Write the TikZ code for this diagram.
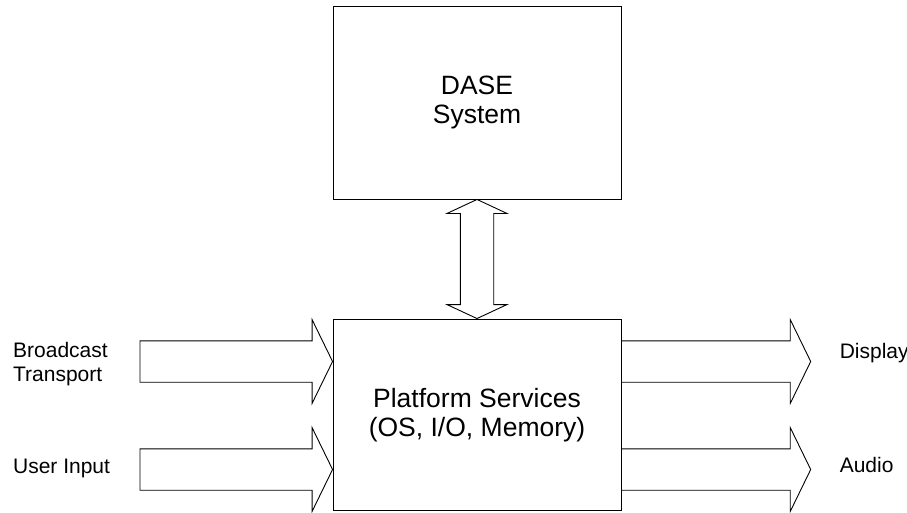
\documentclass[tikz,border=0pt]{standalone}
\usepackage{fontspec}
\setmainfont{Liberation Sans}
\usetikzlibrary{calc}
\tikzset{
  fat/.style={to path={let \p1=(\tikztostart), \p2=(\tikztotarget) in
    (\x1,\y1+20.7pt) -- (\x2-20.5pt,\y1+20.7pt) -- (\x2-20.5pt,\y1+42pt) -- (\x2,\y1)
    -- (\x2-20.5pt,\y1-42pt) -- (\x2-20.5pt,\y1-20.7pt) -- (\x1,\y1-20.7pt) -- cycle}},
  fatboth/.style={to path={let \p1=(\tikztostart), \p2=(\tikztotarget) in
    (\x1,\y1) -- (\x1+30pt,\y1-14pt) -- (\x1+16.7pt,\y1-14pt) -- (\x1+16.7pt,\y2+14pt)
    -- (\x1+30pt,\y2+14pt) -- (\x2,\y2) -- (\x1-30pt,\y2+14pt) -- (\x1-16.7pt,\y2+14pt)
    -- (\x1-16.7pt,\y1-14pt) -- (\x1-30pt,\y1-14pt) -- cycle}}
}
\begin{document}
\begin{tikzpicture}[x=1pt,y=-1pt,line width=0.9pt]
      \useasboundingbox (0,0) rectangle (907,512);
      \begin{scope}[every node/.style={draw,rectangle,align=center,minimum width=288pt,
          font=\fontsize{26.5}{29}\selectfont}]
      \node[minimum height=193pt] (dase) at (477,102.5) {DASE\\System};
      \node[minimum height=191.7pt] (plat) at (477,414.85) {Platform Services\\(OS, I/O, Memory)};
      \end{scope}
      \begin{scope}[every node/.style={inner sep=0pt,font=\fontsize{21}{23.4}\selectfont}]
      \node[anchor=west,align=left] (btl) at (12.7,364) {Broadcast\\Transport};
      \node[anchor=base west] (uil) at (12.7,473.3) {User Input};
      \node[anchor=base west] (dspl) at (839.3,358.3) {Display};
      \node[anchor=base west] (aul) at (839.3,472.3) {Audio};
      \end{scope}
      \coordinate (bt) at (140,361.5);
      \coordinate (ui) at (140,469.5);
      \coordinate (dsp) at (810.7,361.5);
      \coordinate (au) at (810.7,469.5);
      \begin{scope}[every edge/.style={draw=black}]
      \path (dase.south) edge[fatboth] (plat.north);
      \path (bt) edge[fat] (plat.west |- bt);
      \path (ui) edge[fat] (plat.west |- ui);
      \path (plat.east |- dsp) edge[fat] (dsp);
      \path (plat.east |- au) edge[fat] (au);
      \end{scope}
\end{tikzpicture}
\end{document}
